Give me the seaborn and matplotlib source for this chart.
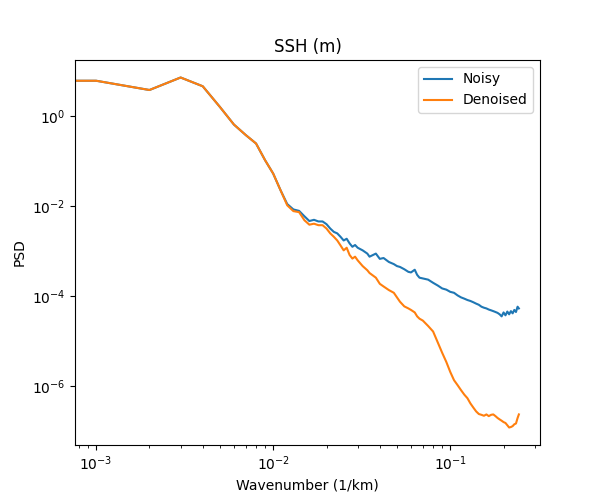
import matplotlib
matplotlib.use("Agg")
import matplotlib.pyplot as plt
import matplotlib.ticker as mticker
import seaborn as sns
import pandas as pd

# wavenumber (1/km)
wavenumber = [
    0.0, 0.001, 0.002, 0.003, 0.004, 0.005, 0.006, 0.007, 0.008, 0.009, 0.010, 0.011,
    0.012, 0.013, 0.014, 0.015, 0.016, 0.017, 0.018, 0.019, 0.020, 0.021, 0.022, 0.023,
    0.024, 0.025, 0.026, 0.027, 0.028, 0.029, 0.030,
    0.032, 0.034, 0.035, 0.038, 0.040, 0.042, 0.045, 0.048, 0.050, 0.052, 0.055, 0.058,
    0.060, 0.063, 0.065, 0.067, 0.070,
    0.075, 0.080, 0.085, 0.090, 0.095, 0.100, 0.105, 0.110, 0.115, 0.120, 0.125, 0.130,
    0.135, 0.140, 0.145, 0.150, 0.155, 0.160, 0.165, 0.170, 0.175, 0.180, 0.185, 0.190,
    0.195, 0.200, 0.205, 0.210, 0.215, 0.220, 0.225, 0.230, 0.235, 0.240, 0.244,
]

# PSD of the noisy field
psd_noisy = [
    6.1, 6.1, 3.8, 7.2, 4.6, 1.6, 0.65, 0.38, 0.247, 0.105, 0.053, 0.0227,
    1.12e-2, 8.5e-3, 7.9e-3, 6.0e-3, 4.7e-3, 5.0e-3, 4.6e-3, 4.6e-3, 4.0e-3, 3.2e-3, 2.7e-3, 2.5e-3,
    2.1e-3, 1.74e-3, 1.9e-3, 1.5e-3, 1.26e-3, 1.38e-3, 1.2e-3,
    1.05e-3, 8.9e-4, 7.6e-4, 8.9e-4, 6.8e-4, 7.1e-4, 5.8e-4, 5.2e-4, 4.7e-4, 4.5e-4, 4.0e-4, 3.5e-4,
    3.4e-4, 3.9e-4, 3.0e-4, 2.6e-4, 2.5e-4,
    2.35e-4, 2.0e-4, 1.74e-4, 1.5e-4, 1.41e-4, 1.26e-4, 1.2e-4, 1.05e-4, 9.5e-5, 8.9e-5, 8.3e-5, 7.9e-5,
    7.4e-5, 6.9e-5, 6.5e-5, 5.9e-5, 5.6e-5, 5.4e-5, 5.1e-5, 4.9e-5, 4.7e-5, 4.5e-5, 4.3e-5, 4.0e-5,
    3.6e-5, 4.4e-5, 3.8e-5, 4.6e-5, 4.0e-5, 4.7e-5, 4.2e-5, 5.0e-5, 4.5e-5, 5.9e-5, 5.4e-5,
]

# PSD of the denoised field
psd_denoised = [
    6.1, 6.1, 3.8, 7.2, 4.6, 1.6, 0.65, 0.38, 0.247, 0.105, 0.053, 0.0227,
    1.05e-2, 7.8e-3, 7.4e-3, 4.9e-3, 3.9e-3, 4.1e-3, 3.8e-3, 3.8e-3, 3.2e-3, 2.5e-3, 2.1e-3, 1.74e-3,
    1.35e-3, 1.05e-3, 1.2e-3, 8.3e-4, 6.9e-4, 7.6e-4, 6.3e-4,
    4.7e-4, 3.8e-4, 3.3e-4, 2.6e-4, 1.9e-4, 1.66e-4, 1.38e-4, 1.2e-4, 9.5e-5, 7.6e-5, 6.0e-5, 5.4e-5,
    5.0e-5, 4.4e-5, 3.6e-5, 3.2e-5, 2.9e-5,
    2.2e-5, 1.66e-5, 9.5e-6, 5.6e-6, 3.5e-6, 2.1e-6, 1.38e-6, 1.07e-6, 8.3e-7, 6.6e-7, 5.5e-7, 4.2e-7,
    3.4e-7, 2.8e-7, 2.45e-7, 2.35e-7, 2.24e-7, 2.4e-7, 2.2e-7, 2.35e-7, 2.4e-7, 2.2e-7, 2.0e-7, 1.86e-7,
    1.74e-7, 1.62e-7, 1.55e-7, 1.38e-7, 1.23e-7, 1.26e-7, 1.32e-7, 1.45e-7, 1.51e-7, 2.0e-7, 2.4e-7,
]

df = pd.DataFrame({"k": wavenumber, "noisy": psd_noisy, "denoised": psd_denoised})

fig, ax = plt.subplots(figsize=(6, 5), dpi=100)
sns.lineplot(data=df, x="k", y="noisy", color="#1f77b4", label="Noisy", ax=ax, sort=False)
sns.lineplot(data=df, x="k", y="denoised", color="#ff7f0e", label="Denoised", ax=ax, sort=False)
ax.set_xscale("log")
ax.set_yscale("log")
ax.autoscale_view()
# y axis: a label every second decade, no minor ticks
ax.yaxis.set_major_locator(mticker.LogLocator(base=100.0))
ax.yaxis.set_minor_locator(mticker.NullLocator())
ax.set_title("SSH (m)")
ax.set_xlabel("Wavenumber (1/km)")
ax.set_ylabel("PSD")
ax.legend(loc="upper right")

plt.savefig("out.png", dpi=100)
